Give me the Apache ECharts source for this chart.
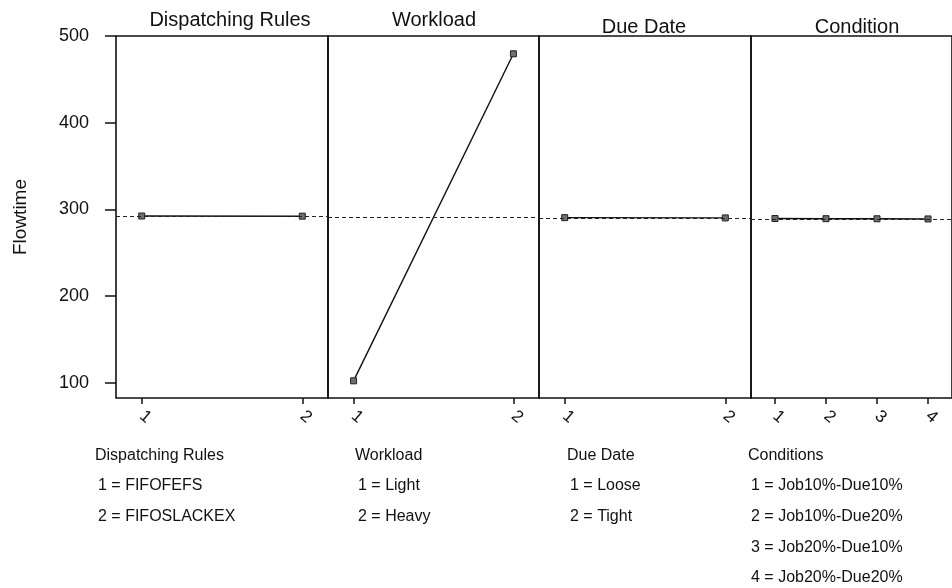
<!DOCTYPE html>
<html><head><meta charset="utf-8">
<script src="https://cdn.jsdelivr.net/npm/echarts@6/dist/echarts.min.js"></script>
<style>html,body{margin:0;padding:0;background:#fff}#c{width:952px;height:588px}</style>
</head><body><div id="c"></div>
<script>
// ---- data ----
const factorTitles = ['Dispatching Rules', 'Workload', 'Due Date', 'Condition'];
const drLevels = [1, 2];
const drFlowtime = [292.5, 292.3];
const wlLevels = [1, 2];
const wlFlowtime = [102.5, 479.5];
const ddLevels = [1, 2];
const ddFlowtime = [290.6, 290.3];
const condLevels = [1, 2, 3, 4];
const condFlowtime = [289.6, 289.4, 289.3, 289.1];
const meanLine = [292.4, 291.3, 290.4, 289.3];
const yTicks = [100, 200, 300, 400, 500];
const yAxisName = 'Flowtime';
const legendHeads = ['Dispatching Rules', 'Workload', 'Due Date', 'Conditions'];
const drLegend = ['1 = FIFOFEFS', '2 = FIFOSLACKEX'];
const wlLegend = ['1 = Light', '2 = Heavy'];
const ddLegend = ['1 = Loose', '2 = Tight'];
const condLegend = ['1 = Job10%-Due10%', '2 = Job10%-Due20%', '3 = Job20%-Due10%', '4 = Job20%-Due20%'];

// ---- layout ----
const FONT = 'Liberation Sans, Arial, Helvetica, sans-serif';
const panelLeft = [116, 328, 539, 751];
const panelWidth = [212, 211, 212, 211];
const panelTop = 36, panelHeight = 362;
const levelsList = [drLevels, wlLevels, ddLevels, condLevels];
const valuesList = [drFlowtime, wlFlowtime, ddFlowtime, condFlowtime];
const xRanges = [[0.84, 2.16], [0.84, 2.16], [0.84, 2.16], [0.53, 4.47]];
const titlePos = [[230, 20], [434, 20], [644, 27], [857, 27]];
const legendX = [95, 355, 567, 748];
const legendRowsY = [456, 486, 517, 548, 578];
const legendItems = [drLegend, wlLegend, ddLegend, condLegend];

const grids = [], xAxes = [], yAxes = [], series = [];
for (let i = 0; i < 4; i++) {
  grids.push({
    left: panelLeft[i], top: panelTop, width: panelWidth[i], height: panelHeight,
    show: true, borderColor: '#111', borderWidth: 1.6, backgroundColor: 'transparent'
  });
  xAxes.push({
    gridIndex: i, type: 'value', min: xRanges[i][0], max: xRanges[i][1],
    axisLine: { show: false },
    splitLine: { show: false },
    axisTick: { show: true, customValues: levelsList[i], length: 6, lineStyle: { color: '#111', width: 1.5 } },
    axisLabel: { show: true, customValues: levelsList[i], rotate: -40, fontSize: 17, color: '#111',
                 fontFamily: FONT, margin: 16, formatter: v => String(v) }
  });
  const first = i === 0;
  yAxes.push({
    gridIndex: i, type: 'value', min: 82.7, max: 500,
    axisLine: { show: false },
    splitLine: { show: false },
    axisTick: { show: first, customValues: yTicks, length: 11, lineStyle: { color: '#111', width: 1.5 } },
    axisLabel: { show: first, customValues: yTicks, fontSize: 18, color: '#111', fontFamily: FONT, margin: 27 },
    name: first ? yAxisName : '',
    nameLocation: 'middle', nameGap: 86, nameRotate: 90,
    nameTextStyle: { fontSize: 19, color: '#111', fontFamily: FONT }
  });
  series.push({
    type: 'line', xAxisIndex: i, yAxisIndex: i,
    data: levelsList[i].map((l, k) => [l, valuesList[i][k]]),
    symbol: 'rect', symbolSize: 6,
    itemStyle: { color: '#707070', borderColor: '#222', borderWidth: 1 },
    lineStyle: { color: '#111', width: 1.4 },
    z: 3,
    markLine: {
      silent: true, symbol: 'none', animation: false,
      label: { show: false },
      lineStyle: { type: [4, 3], color: '#222', width: 1 },
      data: [{ yAxis: meanLine[i] }]
    }
  });
}

const graphics = [];
for (let i = 0; i < 4; i++) {
  graphics.push({
    type: 'text', x: titlePos[i][0], y: titlePos[i][1],
    style: { text: factorTitles[i], fontSize: 20, fontFamily: FONT, fill: '#111',
             textAlign: 'center', textVerticalAlign: 'middle' }
  });
  graphics.push({
    type: 'text', x: legendX[i], y: legendRowsY[0],
    style: { text: legendHeads[i], fontSize: 16, fontFamily: FONT, fill: '#111',
             textAlign: 'left', textVerticalAlign: 'middle' }
  });
  legendItems[i].forEach((t, k) => {
    graphics.push({
      type: 'text', x: legendX[i] + 3, y: legendRowsY[k + 1],
      style: { text: t, fontSize: 16, fontFamily: FONT, fill: '#111',
               textAlign: 'left', textVerticalAlign: 'middle' }
    });
  });
}

const chart = echarts.init(document.getElementById('c'), null, { renderer: 'canvas' });
chart.setOption({
  animation: false,
  backgroundColor: '#fff',
  grid: grids, xAxis: xAxes, yAxis: yAxes, series: series,
  graphic: graphics
});
</script>
</body></html>
